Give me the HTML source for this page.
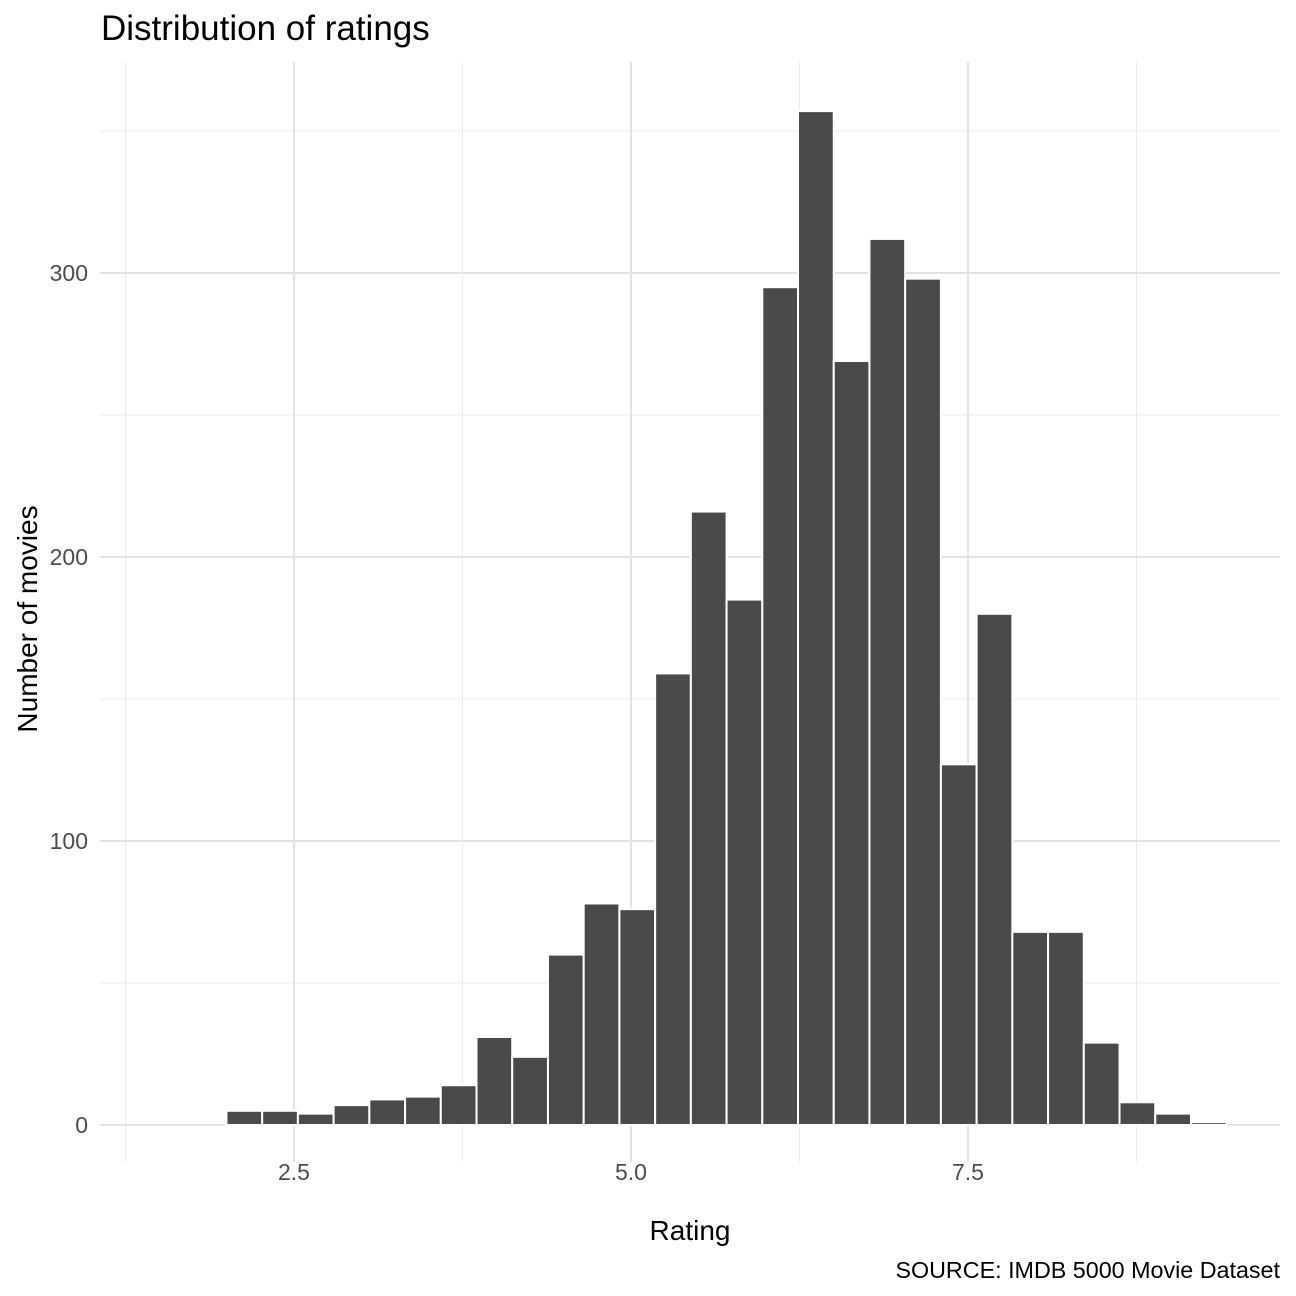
<!DOCTYPE html>
<html><head><meta charset="utf-8"><style>
body{margin:0;background:#fff}
svg{display:block;font-family:"Liberation Sans",Arial,sans-serif}
</style></head><body>
<svg id="chart" width="1296" height="1296" viewBox="0 0 1296 1296" xmlns="http://www.w3.org/2000/svg">
<text x="101" y="40" font-size="35" fill="#000">Distribution of ratings</text>
<g id="grid"></g>
<g id="bars"></g>
<g id="ticks"></g>
<text x="690" y="1240" font-size="28" text-anchor="middle" fill="#000">Rating</text>
<text transform="translate(37,619) rotate(-90)" font-size="28" text-anchor="middle" fill="#000">Number of movies</text>
<text x="1280" y="1278" font-size="23.3" text-anchor="end" fill="#000">SOURCE: IMDB 5000 Movie Dataset</text>
</svg>
<script>
const binStart = 1.469;
const binWidth = 0.265;
const counts = [0,0,5,5,4,7,9,10,14,31,24,60,78,76,159,216,185,295,357,269,312,298,127,180,68,68,29,8,4,1];
const xTicks = [2.5,5.0,7.5];
const xTickLabels = ["2.5","5.0","7.5"];
const xMinor = [1.25,3.75,6.25,8.75];
const yTicks = [0,100,200,300];
const yMinor = [50,150,250,350];
const NS="http://www.w3.org/2000/svg";
const xs = v => 294 + (v-2.5)*134.8;
const ys = v => 1125 - v*2.84;
const L=100,R=1280,T=62,B=1162;
function mk(tag,attrs,parent){const e=document.createElementNS(NS,tag);for(const k in attrs)e.setAttribute(k,attrs[k]);document.getElementById(parent).appendChild(e);return e;}
xMinor.forEach(v=>{const e=mk('line',{x1:xs(v),x2:xs(v),y1:T,y2:B,stroke:'#ebebeb','stroke-width':1},'grid');

});
yMinor.forEach(v=>{const e=mk('line',{x1:L,x2:R,y1:ys(v),y2:ys(v),stroke:'#ebebeb','stroke-width':1},'grid');

});
xTicks.forEach((v,i)=>{const e=mk('line',{x1:xs(v),x2:xs(v),y1:T,y2:B,stroke:'#e3e3e3','stroke-width':2},'grid');


const t=mk('text',{x:xs(v),y:1180,'font-size':23,'text-anchor':'middle',fill:'#4d4d4d'},'ticks');t.textContent=xTickLabels[i];

});
yTicks.forEach(v=>{const e=mk('line',{x1:L,x2:R,y1:ys(v),y2:ys(v),stroke:'#e3e3e3','stroke-width':2},'grid');


const t=mk('text',{x:88,y:ys(v)+8,'font-size':23,'text-anchor':'end',fill:'#4d4d4d'},'ticks');t.textContent=String(v);

});
counts.forEach((c,i)=>{const x0=xs(binStart+i*binWidth),x1=xs(binStart+(i+1)*binWidth);
const r=mk('rect',{x:x0,y:ys(c),width:x1-x0,height:ys(0)-ys(c),fill:'#4a4a4a',stroke:'#fff','stroke-width':2},'bars');

});
</script>
</body></html>
